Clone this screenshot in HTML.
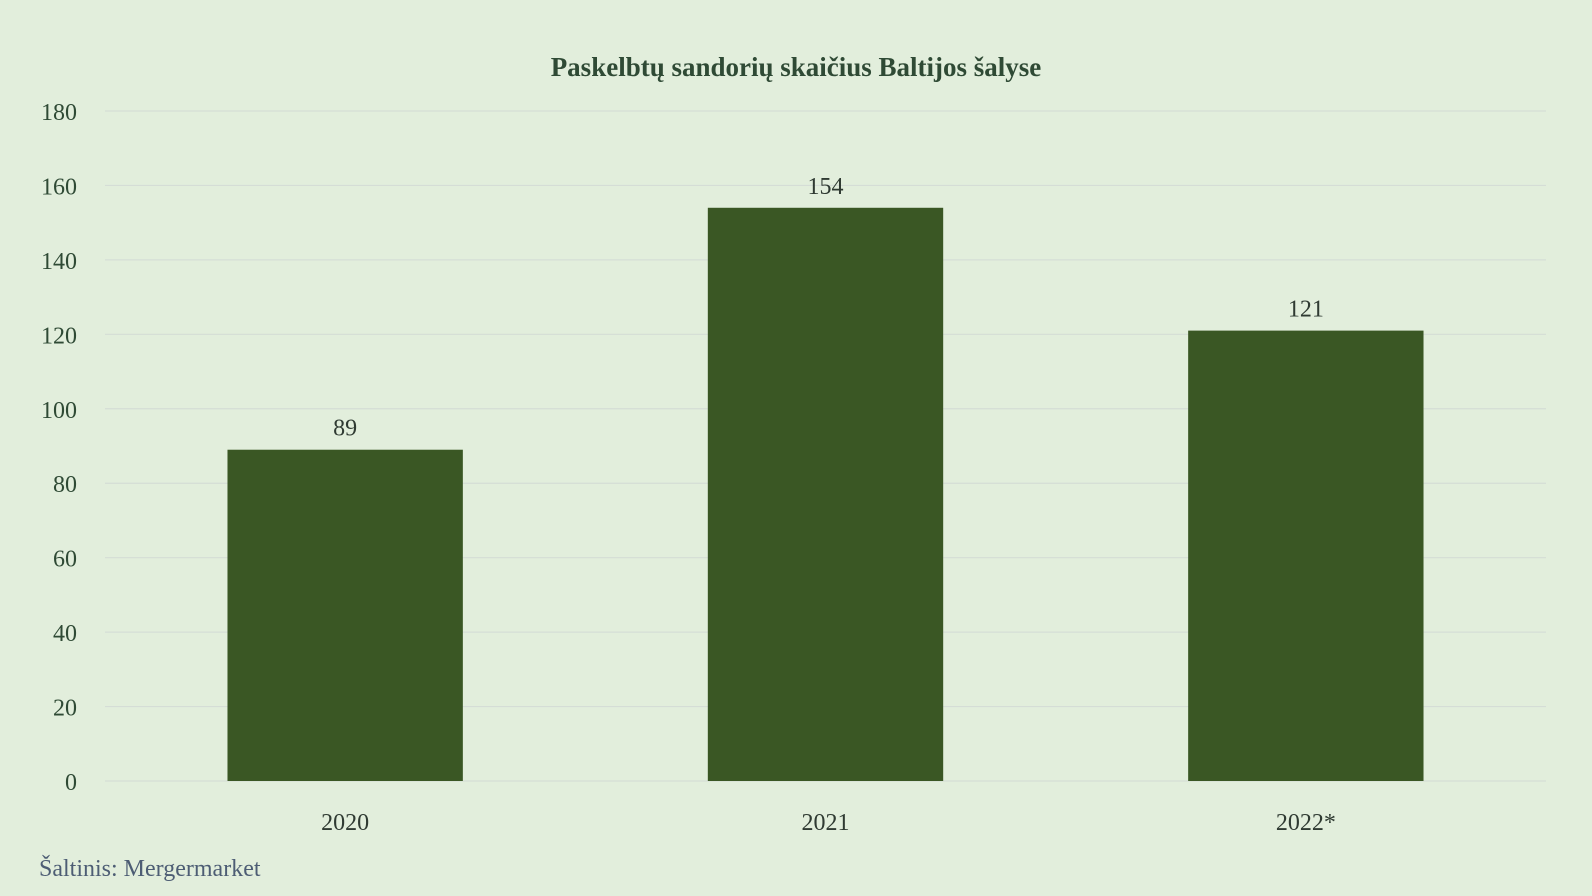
<!DOCTYPE html>
<html><head><meta charset="utf-8"><style>
body{margin:0;background:#e2eedc;}
svg{display:block;font-family:"Liberation Serif",serif;}
</style></head><body>
<svg id="chart" width="1592" height="896">
<rect width="1592" height="896" fill="#e2eedc"/>
<text x="796" y="76" text-anchor="middle" font-size="27" font-weight="bold" fill="#2f4a35">Paskelbtų sandorių skaičius Baltijos šalyse</text>
<g id="grid"></g><g id="bars"></g><g id="labels"></g>
<text x="39" y="876" font-size="24" fill="#4d5d74">Šaltinis: Mergermarket</text>
</svg>
<script>
const categories=["2020","2021","2022*"];
const values=[89,154,121];
const ticks=[0,20,40,60,80,100,120,140,160,180];
const x0=105,x1=1546,y0=781,y1=111,yMax=180;
const ns="http://www.w3.org/2000/svg";
function y(v){return y0-(v/yMax)*(y0-y1);}
const band=(x1-x0)/categories.length;
function xc(i){return x0+band*(i+0.5);}
const bw=band*0.49;
function mk(t,a,p){const e=document.createElementNS(ns,t);for(const k in a)e.setAttribute(k,a[k]);document.getElementById(p).appendChild(e);return e;}
ticks.forEach(t=>{
 const l=mk("line",{x1:x0,x2:x1,y1:y(t),y2:y(t),stroke:"#d5ddd6","stroke-width":1.2},"grid");
 
 
 const tx=mk("text",{x:77,y:y(t)+9,"text-anchor":"end","font-size":24,fill:"#2f4a35"},"grid");
 tx.textContent=t;
 
 
});
categories.forEach((c,i)=>{
 const r=mk("rect",{x:xc(i)-bw/2,y:y(values[i]),width:bw,height:y0-y(values[i]),fill:"#3a5724"},"bars");
 
 
 const v=mk("text",{x:xc(i),y:y(values[i])-14,"text-anchor":"middle","font-size":24,fill:"#2f3a32"},"labels");
 v.textContent=values[i];
 
 
 const xl=mk("text",{x:xc(i),y:830,"text-anchor":"middle","font-size":24,fill:"#2f3a32"},"labels");
 xl.textContent=c;
 
 
});
</script>
</body></html>
